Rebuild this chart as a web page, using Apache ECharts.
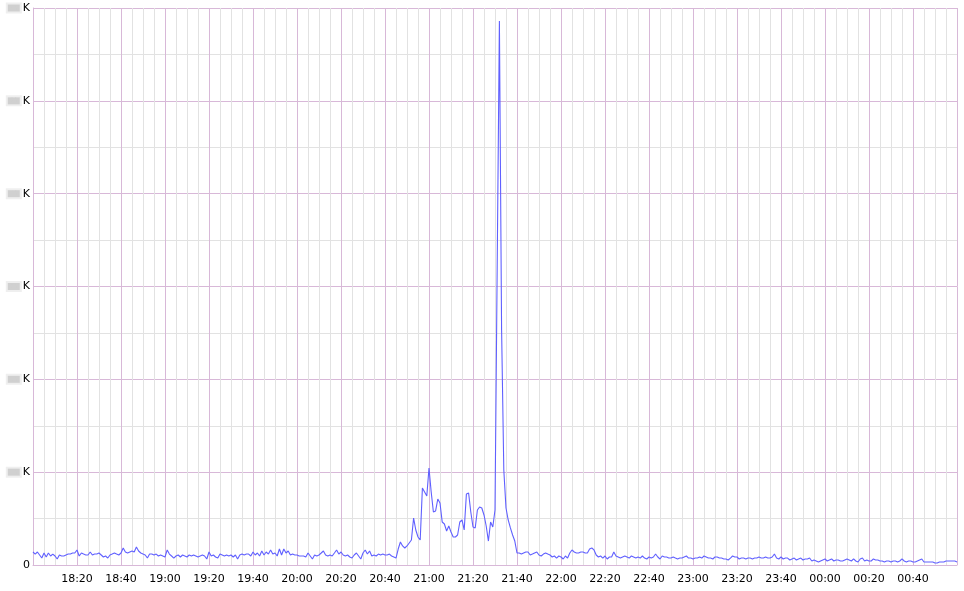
<!DOCTYPE html>
<html>
<head>
<meta charset="utf-8">
<script src="https://cdn.jsdelivr.net/npm/echarts@6/dist/echarts.min.js"></script>
<style>
html,body{margin:0;padding:0;background:#fff;}
#chart{width:964px;height:591px;}
</style>
</head>
<body>
<div id="chart"></div>
<script>
// one sample per minute, starting 18:00, values in K
var startTime = '18:00';
var stepMinutes = 1;
var values = [
1.40,1.18,1.40,1.08,0.75,1.29,0.86,1.29,0.97,1.18,
0.97,0.65,1.08,0.97,0.97,1.08,1.18,1.18,1.29,1.29,
1.62,0.97,1.29,1.18,1.08,1.08,1.40,1.08,1.18,1.18,
1.29,1.08,0.86,0.97,0.75,1.08,1.18,1.29,1.18,1.08,
1.29,1.83,1.40,1.29,1.40,1.51,1.40,1.94,1.51,1.29,
1.18,1.08,0.75,1.18,1.18,1.08,1.18,0.97,1.08,0.97,
0.86,1.62,1.18,0.97,0.75,0.97,1.08,0.86,1.08,0.97,
0.86,1.08,0.97,1.08,0.97,0.86,0.97,1.08,0.97,0.65,
1.40,0.97,1.08,0.86,0.75,1.18,1.08,0.97,1.08,0.97,
1.08,0.86,1.08,0.65,1.08,1.18,1.08,1.18,1.18,0.97,
1.40,1.08,1.29,0.97,1.51,1.08,1.40,1.18,1.62,1.18,
1.29,0.97,1.72,1.08,1.72,1.29,1.51,1.08,1.18,1.08,
1.08,0.97,0.97,0.97,0.86,1.29,0.97,0.65,1.08,0.97,
1.08,1.29,1.51,1.08,0.97,1.08,0.97,1.29,1.62,1.18,
1.40,1.08,0.97,1.08,0.86,0.75,1.08,1.29,0.97,0.65,
1.29,1.62,1.18,1.51,0.97,1.08,0.97,1.18,1.08,1.18,
1.08,1.08,1.18,0.97,0.86,0.75,1.72,2.48,2.05,1.83,
2.05,2.37,2.69,5.06,3.77,3.02,2.69,8.29,7.86,7.43,
10.45,7.86,5.71,5.82,7.11,6.68,4.63,4.42,3.66,4.20,
3.55,3.02,3.02,3.23,4.63,4.85,3.77,7.65,7.75,5.71,
4.09,3.99,5.92,6.25,6.14,5.39,4.20,2.58,4.63,4.09,
5.92,32.31,58.59,25.31,10.23,6.14,4.85,3.99,3.23,2.58,
1.29,1.29,1.18,1.29,1.40,1.40,1.08,1.18,1.29,1.40,
1.08,0.97,1.18,1.29,1.18,1.08,0.86,0.97,0.75,0.97,
0.86,0.65,0.97,0.75,1.29,1.62,1.40,1.29,1.29,1.40,
1.40,1.29,1.29,1.72,1.83,1.62,1.08,0.86,0.97,0.75,
0.97,0.65,0.86,0.86,1.40,0.97,0.86,0.75,0.86,0.97,
0.86,0.75,0.97,0.86,0.75,0.86,0.75,0.97,0.75,0.65,
0.86,0.75,0.86,1.18,0.86,0.65,0.97,0.86,0.86,0.75,
0.75,0.86,0.75,0.65,0.75,0.75,0.86,0.97,0.75,0.75,
0.65,0.75,0.75,0.86,0.75,0.97,0.86,0.75,0.75,0.65,
0.86,0.86,0.75,0.75,0.65,0.65,0.54,0.75,0.97,0.86,
0.86,0.65,0.75,0.75,0.65,0.75,0.75,0.65,0.75,0.75,
0.86,0.75,0.75,0.86,0.75,0.75,0.86,1.18,0.75,0.65,
0.86,0.65,0.75,0.75,0.54,0.65,0.75,0.54,0.65,0.75,
0.54,0.65,0.65,0.75,0.43,0.54,0.43,0.32,0.43,0.54,
0.65,0.43,0.54,0.65,0.43,0.54,0.54,0.43,0.43,0.54,
0.65,0.54,0.43,0.65,0.43,0.32,0.65,0.75,0.43,0.54,
0.43,0.43,0.65,0.54,0.54,0.43,0.43,0.32,0.43,0.43,
0.32,0.43,0.43,0.32,0.43,0.65,0.43,0.32,0.43,0.43,
0.32,0.32,0.43,0.54,0.65,0.32,0.32,0.32,0.32,0.32,
0.22,0.22,0.32,0.32,0.32,0.43,0.43,0.43,0.43,0.43,
0.32
];
var xTickLabels = ['18:20','18:40','19:00','19:20','19:40','20:00','20:20','20:40','21:00','21:20','21:40','22:00','22:20','22:40','23:00','23:20','23:40','00:00','00:20','00:40'];
var yTickValues = [0,10,20,30,40,50,60];

var startMin = parseInt(startTime.split(':')[0],10)*60 + parseInt(startTime.split(':')[1],10);
function fmtTime(offset){
  var t = (startMin + offset) % 1440;
  var h = Math.floor(t/60), m = t%60;
  return (h<10?'0':'')+h+':'+(m<10?'0':'')+m;
}
var data = values.map(function(v,i){ return [i*stepMinutes, v]; });
var span = (values.length-1)*stepMinutes;

var purple = '#d8b8d8';
var gray = '#e2e2e2';
var gridBox = {left:33,right:7,top:8,bottom:26,containLabel:false,show:false};

var chart = echarts.init(document.getElementById('chart'), null, {renderer:'canvas'});
chart.setOption({
  animation:false,
  backgroundColor:'#fff',
  grid:[gridBox, gridBox],
  xAxis:[{
    gridIndex:0, type:'value', min:0, max:span, interval:20,
    axisLine:{show:false}, axisTick:{show:false},
    axisLabel:{
      color:'#000', fontSize:11, fontFamily:'DejaVu Sans', margin:9,
      formatter:function(v){ var s = fmtTime(v); return xTickLabels.indexOf(s)>=0 ? s : ''; }
    },
    splitLine:{show:false},
    minorTick:{show:false,splitNumber:4},
    minorSplitLine:{show:true,lineStyle:{color:gray,width:1}}
  },{
    gridIndex:1, type:'value', min:0, max:span, interval:20,
    axisLine:{show:true,lineStyle:{color:purple,width:1}}, axisTick:{show:false},
    axisLabel:{show:false},
    splitLine:{show:true,lineStyle:{color:purple,width:1}}
  }],
  yAxis:[{
    gridIndex:0, type:'value', min:yTickValues[0], max:yTickValues[yTickValues.length-1], interval:10,
    axisLine:{show:false}, axisTick:{show:false},
    axisLabel:{
      color:'#000', fontSize:11, fontFamily:'DejaVu Sans', margin:3,
      formatter:function(v){ return v===0 ? '0' : '{box|'+v+'}{k|K}'; },
      rich:{
        box:{color:'#d0d0d0',backgroundColor:'#d0d0d0',width:12,height:7,fontSize:6,align:'center',
             borderColor:'#efefef',borderWidth:2},
        k:{color:'#000',fontSize:11,fontFamily:'DejaVu Sans',padding:[0,0,0,3]}
      }
    },
    splitLine:{show:false},
    minorTick:{show:false,splitNumber:2},
    minorSplitLine:{show:true,lineStyle:{color:gray,width:1}}
  },{
    gridIndex:1, type:'value', min:yTickValues[0], max:yTickValues[yTickValues.length-1], interval:10,
    axisLine:{show:true,lineStyle:{color:purple,width:1}}, axisTick:{show:false},
    axisLabel:{show:false},
    splitLine:{show:true,lineStyle:{color:purple,width:1}}
  }],
  series:[{
    type:'line', xAxisIndex:1, yAxisIndex:1, data:data, showSymbol:false, symbol:'none',
    lineStyle:{color:'#6060ff',width:1.1},
    z:5
  }]
});
</script>
</body>
</html>
